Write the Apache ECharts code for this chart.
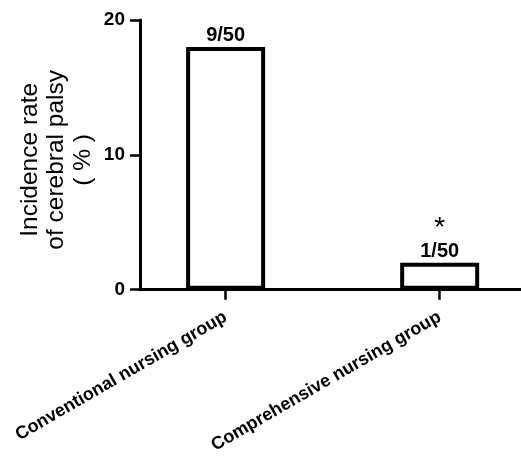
<!DOCTYPE html>
<html>
<head>
<meta charset="utf-8">
<script src="https://cdn.jsdelivr.net/npm/echarts@6/dist/echarts.min.js"></script>
<style>html,body{margin:0;padding:0;background:#fff}#c{width:521px;height:456px}</style>
</head>
<body>
<div id="c"></div>
<script>
var categories = ['Conventional nursing group', 'Comprehensive nursing group'];
var positions = [1, 2];
var values = [18, 2];
var counts = ['9/50', '1/50'];
var marks = ['', '*'];
var yTicks = [0, 10, 20];

var chart = echarts.init(document.getElementById('c'), null, {renderer: 'canvas'});
var F = '"Liberation Sans", Arial, sans-serif';
chart.setOption({
  animation: false,
  backgroundColor: '#fff',
  grid: {left: 140, right: 0, top: 20, bottom: 165, containLabel: false},
  xAxis: {
    type: 'value', min: 0.6, max: 2.38,
    splitLine: {show: false},
    axisLine: {show: true, lineStyle: {color: '#000', width: 3}},
    axisTick: {show: true, customValues: positions, length: 10, lineStyle: {color: '#000', width: 2.5}},
    axisLabel: {
      customValues: positions, rotate: 30, margin: 26,
      color: '#000', fontFamily: F, fontWeight: 'bold', fontSize: 18,
      formatter: function (v) { return categories[positions.indexOf(v)] || ''; }
    }
  },
  yAxis: {
    type: 'value', min: yTicks[0], max: yTicks[yTicks.length - 1], interval: 10,
    splitLine: {show: false},
    axisLine: {show: true, lineStyle: {color: '#000', width: 3}},
    axisTick: {show: true, length: 10, lineStyle: {color: '#000', width: 2.5}},
    axisLabel: {color: '#000', fontFamily: F, fontWeight: 'bold', fontSize: 19, margin: 15},
    name: 'Incidence rate\nof cerebral palsy\n( % )',
    nameLocation: 'middle', nameGap: 44, nameRotate: 90, nameMoveOverlap: false,
    nameTextStyle: {color: '#000', fontFamily: F, fontSize: 24.5, lineHeight: 26.5, align: 'center', padding: [0, 10, 0, 0]}
  },
  series: [{
    type: 'bar',
    barWidth: 79,
    data: positions.map(function (p, i) { return [p, values[i]]; }),
    itemStyle: {color: '#fff', borderColor: '#000', borderWidth: 4},
    label: {
      show: true, position: 'top', distance: 0, color: '#000', fontFamily: F,
      formatter: function (p) {
        var i = p.dataIndex;
        return (marks[i] ? '{s|' + marks[i] + '}\n' : '') + '{n|' + counts[i] + '}';
      },
      rich: {
        s: {fontSize: 28, fontWeight: 'normal', lineHeight: 24, fontFamily: F, color: '#000'},
        n: {fontSize: 20, fontWeight: 'bold', lineHeight: 22, fontFamily: F, color: '#000'}
      }
    }
  }]
});
</script>
</body>
</html>
